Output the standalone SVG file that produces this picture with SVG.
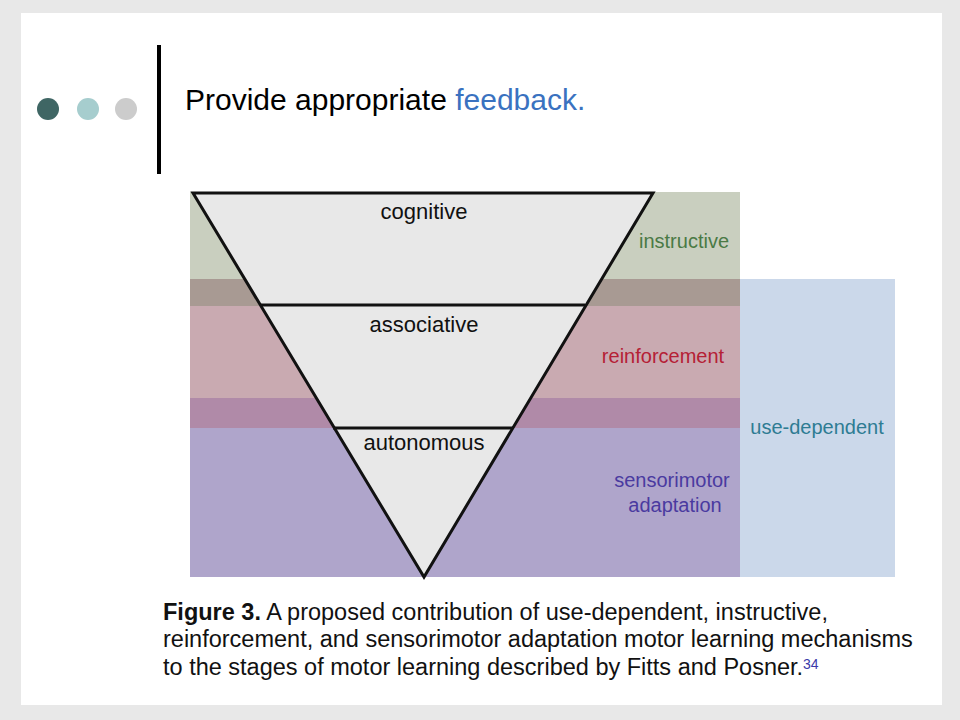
<svg xmlns="http://www.w3.org/2000/svg" width="960" height="720" viewBox="0 0 960 720">
<style>
text{font-family:"Liberation Sans",Arial,sans-serif}
.lbl{font-size:22px;fill:#111;text-anchor:middle}
.band{font-size:20px;text-anchor:middle}
.cap{font-size:23.5px;fill:#111}
</style>
<rect width="960" height="720" fill="#e8e8e8"/>
<rect x="21" y="13" width="921" height="692" fill="#fff"/>
<g id="header">
<circle cx="48" cy="109" r="11" fill="#3f6664"/>
<circle cx="88" cy="109" r="11" fill="#a6cdce"/>
<circle cx="126" cy="109" r="11" fill="#cccccc"/>
<rect x="157" y="45" width="4" height="129" fill="#000"/>
<text x="185" y="110" font-size="30" fill="#000">Provide appropriate <tspan fill="#3a72c0">feedback.</tspan></text>
</g>
<g id="bands">
<rect x="190" y="192" width="550" height="87" fill="#c9cfbf"/>
<rect x="190" y="279" width="550" height="27" fill="#a89a93"/>
<rect x="190" y="306" width="550" height="92" fill="#c9aab1"/>
<rect x="190" y="398" width="550" height="30" fill="#b08aa8"/>
<rect x="190" y="428" width="550" height="149" fill="#afa5cb"/>
<rect x="740" y="279" width="155" height="298" fill="#cbd8ea"/>
</g>
<g id="triangle">
<polygon points="193,193 653,193 424,577" fill="#e8e8e8" stroke="#111" stroke-width="3" stroke-linejoin="miter"/>
<line x1="261" y1="305" x2="585" y2="305" stroke="#111" stroke-width="3"/>
<line x1="333" y1="428" x2="513" y2="428" stroke="#111" stroke-width="3"/>
</g>
<g id="labels">
<text class="lbl" x="424" y="219">cognitive</text>
<text class="lbl" x="424" y="332">associative</text>
<text class="lbl" x="424" y="450">autonomous</text>
<text class="band" x="684" y="248" fill="#4a7a45">instructive</text>
<text class="band" x="663" y="363" fill="#b52035">reinforcement</text>
<text class="band" x="817" y="434" fill="#2e7c93">use-dependent</text>
<text class="band" x="672" y="487" fill="#4a3aa0">sensorimotor</text>
<text class="band" x="675" y="512" fill="#4a3aa0">adaptation</text>
</g>
<g id="caption">
<text class="cap" x="163" y="620"><tspan font-weight="bold">Figure 3.</tspan> A proposed contribution of use-dependent, instructive,</text>
<text class="cap" x="163" y="647">reinforcement, and sensorimotor adaptation motor learning mechanisms</text>
<text class="cap" x="163" y="675">to the stages of motor learning described by Fitts and Posner.<tspan font-size="14" dy="-6" fill="#3a3aa8">34</tspan></text>
</g>
</svg>
